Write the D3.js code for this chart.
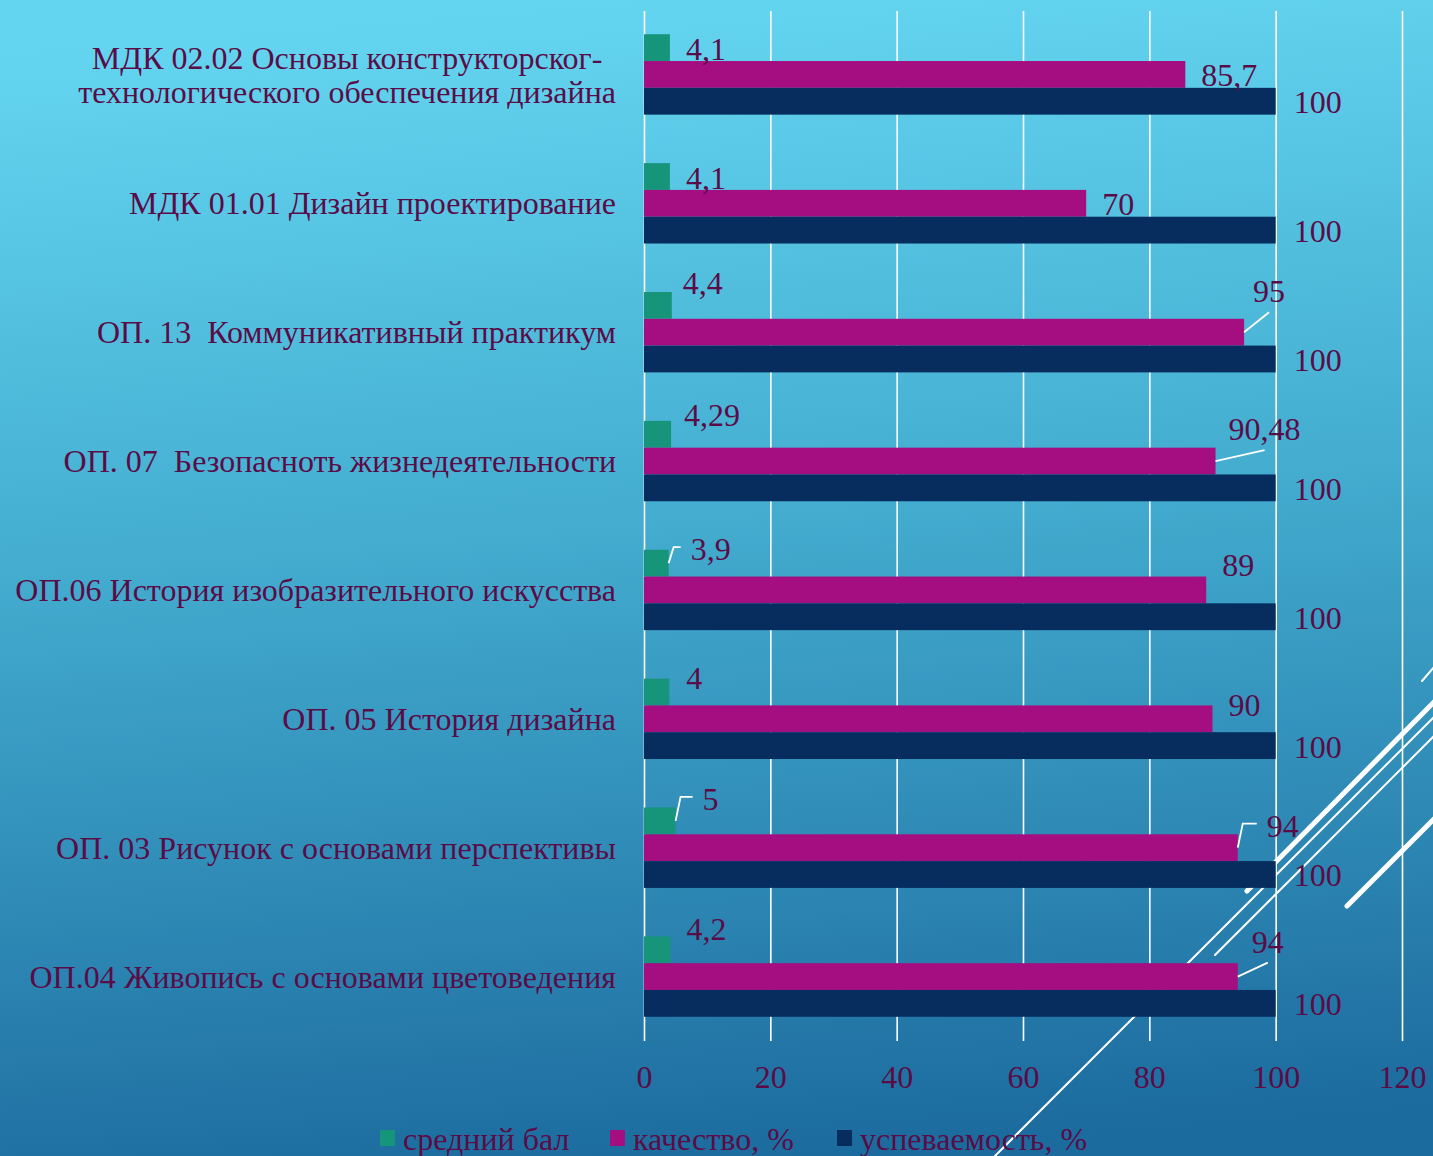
<!DOCTYPE html>
<html>
<head>
<meta charset="utf-8">
<script src="https://cdn.jsdelivr.net/npm/d3@7"></script>
<style>
  html, body { margin: 0; padding: 0; overflow: hidden; }
  svg { display: block; }
  text { font-family: "Liberation Serif", "Times New Roman", serif; fill: #5a0c47; white-space: pre; }
</style>
</head>
<body>
<script>
// ---- data ----
const categories = [
  "МДК 02.02 Основы конструкторског-\nтехнологического обеспечения дизайна",
  "МДК 01.01 Дизайн проектирование",
  "ОП. 13  Коммуникативный практикум",
  "ОП. 07  Безопасноть жизнедеятельности",
  "ОП.06 История изобразительного искусства",
  "ОП. 05 История дизайна",
  "ОП. 03 Рисунок с основами перспективы",
  "ОП.04 Живопись с основами цветоведения"
];
const seriesNames = ["средний бал", "качество, %", "успеваемость, %"];
const avgScore = [4.1, 4.1, 4.4, 4.29, 3.9, 4, 5, 4.2];
const quality = [85.7, 70, 95, 90.48, 89, 90, 94, 94];
const success = [100, 100, 100, 100, 100, 100, 100, 100];
const xTicks = [0, 20, 40, 60, 80, 100, 120];

// ---- styling / layout ----
const W = 1433, H = 1156;
const colors = ["#17957a", "#a50e80", "#062d5e"];
const fontSize = 32;
// manually moved data labels (pixel nudges from default position) and leader style
const labelNudges = [
  {s: 0, c: 2, dx: -5, dy: -23},
  {s: 0, c: 3, dx: -3, dy: -20},
  {s: 0, c: 4, dx: 6, dy: -15, leader: "elbow"},
  {s: 0, c: 5, dx: 1, dy: -15},
  {s: 0, c: 6, dx: 11, dy: -23, leader: "elbow"},
  {s: 0, c: 7, dx: 0, dy: -22},
  {s: 1, c: 2, dx: -7, dy: -42, leader: "below"},
  {s: 1, c: 3, dx: -3, dy: -33, leader: "below"},
  {s: 1, c: 4, dx: 0, dy: -26},
  {s: 1, c: 5, dx: 0, dy: -15},
  {s: 1, c: 6, dx: 13, dy: -23, leader: "elbow"},
  {s: 1, c: 7, dx: -2, dy: -36, leader: "below"}
];

const seriesValues = [avgScore, quality, success];

const svg = d3.select("body").append("svg").attr("width", W).attr("height", H);
const defs = svg.append("defs");
const grad = defs.append("linearGradient").attr("id", "bg")
  .attr("x1", "0.45").attr("y1", "0").attr("x2", "0.55").attr("y2", "1");
grad.append("stop").attr("offset", "0%").attr("stop-color", "#64d5f1");
grad.append("stop").attr("offset", "45%").attr("stop-color", "#43accf");
grad.append("stop").attr("offset", "100%").attr("stop-color", "#1c6b9e");
svg.append("rect").attr("width", W).attr("height", H).attr("fill", "url(#bg)");

// decorative slide lines
const deco = svg.append("g").attr("stroke", "#ffffff").attr("stroke-linecap", "round").attr("fill", "none");
deco.append("line").attr("x1", 993).attr("y1", 1158).attr("x2", 1435).attr("y2", 716).attr("stroke-width", 2);
deco.append("line").attr("x1", 1215).attr("y1", 955).attr("x2", 1435).attr("y2", 735).attr("stroke-width", 2);
deco.append("line").attr("x1", 1247).attr("y1", 891).attr("x2", 1435).attr("y2", 701).attr("stroke-width", 5);
deco.append("line").attr("x1", 1347).attr("y1", 906).attr("x2", 1435).attr("y2", 818).attr("stroke-width", 5);
deco.append("line").attr("x1", 1422).attr("y1", 681).attr("x2", 1435).attr("y2", 666).attr("stroke-width", 2);

// scales
const x = d3.scaleLinear().domain([0, 120]).range([644, 1402]);
const y = d3.scaleBand().domain(categories).range([10, 1041]).paddingInner(0.376).paddingOuter(0.188);
const ySub = d3.scaleBand().domain(d3.range(seriesNames.length)).range([0, y.bandwidth()]);

// gridlines + tick labels via axis
const plotTop = 11, plotBottom = 1041;
const axisG = svg.append("g").attr("transform", `translate(0,${plotBottom})`)
  .call(d3.axisBottom(x).tickValues(xTicks).tickSize(-(plotBottom - plotTop)).tickPadding(0).tickFormat(d3.format("d")));
axisG.select(".domain").remove();
axisG.selectAll(".tick line").attr("stroke", "#ffffff").attr("stroke-width", 1.6).attr("y2", -(plotBottom - plotTop)).attr("y1", 0);
axisG.selectAll(".tick text").attr("y", 47).attr("dy", 0).attr("fill", "#5a0c47")
  .attr("font-size", fontSize).attr("font-family", "Liberation Serif, serif");

// bars
const barData = [];
seriesValues.forEach((vals, s) => vals.forEach((v, c) => barData.push({s, c, v})));
svg.append("g").selectAll("rect").data(barData).join("rect")
  .attr("x", x(0))
  .attr("y", d => y(categories[d.c]) + ySub(d.s))
  .attr("width", d => x(d.v) - x(0))
  .attr("height", ySub.bandwidth())
  .attr("fill", d => colors[d.s]);

// category labels (multi-line labels are centred on each other, block right-aligned)
const catG = svg.append("g");
const labelRight = 616;
categories.forEach(cat => {
  const lines = cat.split("\n");
  const cy = y(cat) + y.bandwidth() / 2;
  const lh = 34;
  const t = catG.append("text").attr("font-size", fontSize);
  const spans = lines.map((ln, i) => t.append("tspan")
      .attr("y", cy + 11 + (i - (lines.length - 1) / 2) * lh + (lines.length > 1 ? 1 : 0))
      .text(ln));
  if (lines.length === 1) {
    t.attr("text-anchor", "end");
    spans[0].attr("x", labelRight);
  } else {
    const maxW = d3.max(spans, s => s.node().getComputedTextLength());
    t.attr("text-anchor", "middle");
    spans.forEach(s => s.attr("x", labelRight - maxW / 2));
  }
});

// data labels
const fmt = v => String(v).replace(".", ",");
const labG = svg.append("g");
const leadG = svg.append("g").attr("stroke", "#ffffff").attr("stroke-width", 1.8).attr("fill", "none");
barData.forEach(d => {
  const nudge = labelNudges.find(n => n.s === d.s && n.c === d.c) || {dx: 0, dy: 0};
  const barCy = y(categories[d.c]) + ySub(d.s) + ySub.bandwidth() / 2;
  const gap = d.s === 2 ? 18 : 16;
  const lx = x(d.v) + gap + nudge.dx;
  const lcy = barCy + 1 + nudge.dy;
  const txt = labG.append("text").attr("x", lx).attr("y", lcy + 11)
    .attr("font-size", fontSize).text(fmt(d.v));
  const w = txt.node().getComputedTextLength();
  if (nudge.leader === "elbow") {
    leadG.append("path").attr("d", d3.line()([
      [x(d.v), barCy], [x(d.v) + 5, lcy - 2], [lx - 10, lcy - 2]
    ]));
  } else if (nudge.leader === "below") {
    leadG.append("path").attr("d", d3.line()([
      [x(d.v), barCy], [lx + w / 2, lcy + 21]
    ]));
  }
});

// legend
const legendX = [380, 610, 837];
const legG = svg.append("g");
seriesNames.forEach((name, i) => {
  legG.append("rect").attr("x", legendX[i]).attr("y", 1130).attr("width", 15).attr("height", 16).attr("fill", colors[i]);
  legG.append("text").attr("x", legendX[i] + 23).attr("y", 1150).attr("font-size", fontSize).text(name);
});
</script>
</body>
</html>
